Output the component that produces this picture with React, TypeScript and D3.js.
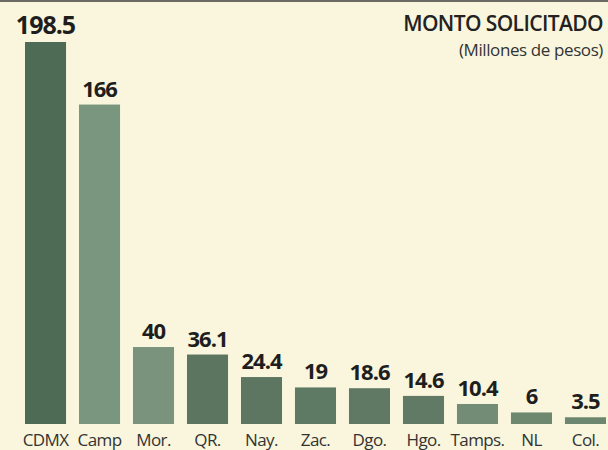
import React from "react";
import * as d3 from "d3";

const estados = ["CDMX", "Camp", "Mor.", "QR.", "Nay.", "Zac.", "Dgo.", "Hgo.", "Tamps.", "NL", "Col."];
const monto = [198.5, 166, 40, 36.1, 24.4, 19, 18.6, 14.6, 10.4, 6, 3.5];
const etiquetas = ["198.5", "166", "40", "36.1", "24.4", "19", "18.6", "14.6", "10.4", "6", "3.5"];
const colores = ["#4e6b55", "#7b967f", "#7a937d", "#5b7561", "#5c7662", "#5f7a64", "#5f7964", "#607a65", "#728c75", "#6e876f", "#6d866f"];

const W = 608;
const H = 450;

export default function App() {
  const base = 424;

  const x = d3.scaleBand<string>()
    .domain(estados)
    .range([25, 606])
    .paddingInner(0.24)
    .paddingOuter(0);

  const y = d3.scaleLinear()
    .domain([0, 198.5])
    .range([base, 42]);

  return (
    <svg width={W} height={H} style={{ position: "absolute", left: 0, top: 0 }}
      fontFamily="'Open Sans', sans-serif">
      <rect x={0} y={0} width={W} height={H} fill="#f9f6dd" />
      <rect x={0} y={0} width={W} height={2} fill="#6a6a62" />

      <text x={603} y={31} textAnchor="end" fontSize={21} fontWeight={600} fill="#222" letterSpacing={-0.6}>
        MONTO SOLICITADO
      </text>
      <text x={603} y={56} textAnchor="end" fontSize={17} fill="#333" letterSpacing={-0.4}>
        (Millones de pesos)
      </text>

      {estados.map((e, i) => {
        const cx = (x(e) ?? 0) + x.bandwidth() / 2;
        const top = y(monto[i]);
        return (
          <g key={e}>
            <rect x={x(e)} y={top} width={x.bandwidth()} height={base - top} fill={colores[i]} />
            <text x={cx} y={top - 8} textAnchor="middle" fontWeight={700}
              fontSize={i === 0 ? 25 : 22} fill="#1e1e1e" letterSpacing={-1}>
              {etiquetas[i]}
            </text>
            <text x={cx} y={446} textAnchor="middle" fontSize={17} fill="#333" letterSpacing={-0.6}>
              {e}
            </text>
          </g>
        );
      })}
    </svg>
  );
}
